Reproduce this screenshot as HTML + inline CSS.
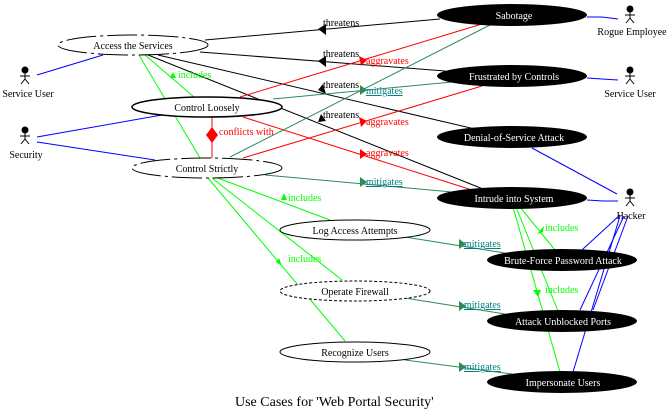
<!DOCTYPE html>
<html><head><style>
html,body{margin:0;padding:0;background:#fff;}
svg{display:block;font-family:"Liberation Serif",serif;}
</style></head><body>
<svg width="672" height="420" viewBox="0 0 672 420" xmlns="http://www.w3.org/2000/svg">
<g stroke-width="1" fill="none">
<!-- threatens (black) -->
<line x1="205" y1="40" x2="440" y2="19" stroke="#000"/>
<line x1="200" y1="52" x2="445" y2="71" stroke="#000"/>
<line x1="158" y1="55" x2="475" y2="129" stroke="#000"/>
<line x1="148" y1="55" x2="488" y2="191" stroke="#000"/>
<!-- aggravates red -->
<line x1="240" y1="97" x2="482" y2="24" stroke="#f00"/>
<line x1="243" y1="117" x2="472" y2="190" stroke="#f00"/>
<line x1="243" y1="158" x2="482" y2="86" stroke="#f00"/>
<!-- mitigates teal -->
<line x1="273" y1="99" x2="452" y2="82" stroke="#2e8b57"/>
<line x1="230" y1="157" x2="490" y2="25" stroke="#2e8b57"/>
<line x1="265" y1="175" x2="452" y2="192" stroke="#2e8b57"/>
<line x1="405" y1="237" x2="505" y2="253" stroke="#2e8b57"/>
<line x1="405" y1="298" x2="505" y2="314" stroke="#2e8b57"/>
<line x1="405" y1="360" x2="512" y2="374" stroke="#2e8b57"/>
<!-- includes green -->
<line x1="145" y1="55" x2="194" y2="97" stroke="#0f0"/>
<line x1="139" y1="55" x2="200" y2="158" stroke="#0f0"/>
<line x1="215" y1="177" x2="330" y2="220" stroke="#0f0"/>
<line x1="212" y1="178" x2="342" y2="280" stroke="#0f0"/>
<line x1="208" y1="178" x2="345" y2="341" stroke="#0f0"/>
<line x1="520" y1="207" x2="555" y2="250" stroke="#0f0"/>
<line x1="516" y1="207" x2="558" y2="311" stroke="#0f0"/>
<line x1="513" y1="207" x2="560" y2="372" stroke="#0f0"/>
<!-- conflicts -->
<line x1="212" y1="116" x2="212" y2="158" stroke="#f00"/>
<!-- actor lines blue -->
<line x1="37" y1="75" x2="103" y2="55" stroke="#00f"/>
<line x1="37" y1="137" x2="162" y2="115" stroke="#00f"/>
<line x1="37" y1="142" x2="155" y2="160" stroke="#00f"/>
<polyline points="587,17 602,17 618,19" stroke="#00f"/>
<polyline points="587,78 602,79 618,80" stroke="#00f"/>
<line x1="532" y1="148" x2="617" y2="194" stroke="#00f"/>
<polyline points="587,200 603,201 618,201" stroke="#00f"/>
<polyline points="580,252 583,249 620,215" stroke="#00f"/>
<line x1="580" y1="310" x2="624" y2="216" stroke="#00f"/>
<line x1="593" y1="310" x2="628" y2="216" stroke="#00f"/>
<line x1="573" y1="372" x2="620" y2="216" stroke="#00f"/>
</g>
<!-- arrowheads -->
<g fill="#000">
<polygon points="318,29 326,24 326,35"/>
<polygon points="318,61 326,56 326,67"/>
<polygon points="318,90 323,84 326,94"/>
<polygon points="318,122 321,114 326,121"/>
</g>
<g fill="#f00">
<polygon points="367,60 359,56 361,66"/>
<polygon points="367,154 360,149 360,159"/>
<polygon points="367,121 359,117 361,127"/>
<polygon points="212,127 218,135 212,143 206,135"/>
</g>
<g fill="#2e8b57">
<polygon points="367,90 360,85 360,95"/>
<polygon points="367,182 360,177 360,187"/>
<polygon points="466,244 459,239 459,249"/>
<polygon points="466,306 459,301 459,311"/>
<polygon points="466,367 459,362 459,372"/>
</g>
<g fill="#0f0">
<polygon points="170,78 176,78 173,72"/>
<polygon points="281,200 287,200 284,193"/>
<polygon points="276,262 282,266 279,258"/>
<polygon points="537,234 543,232 544,226"/>
<polygon points="533,290 541,290 538,297"/>
</g>
<!-- white ellipses -->
<g fill="#fff" stroke="#000">
<ellipse cx="133" cy="45" rx="75" ry="10" stroke-dasharray="30,4,3,4"/>
<ellipse cx="207" cy="107" rx="75" ry="10" stroke-width="1.5"/>
<ellipse cx="207" cy="168" rx="75" ry="10" stroke-dasharray="30,4,3,4"/>
<ellipse cx="355" cy="230" rx="75" ry="10"/>
<ellipse cx="355" cy="291" rx="75" ry="10" stroke-dasharray="3,2"/>
<ellipse cx="355" cy="352" rx="75" ry="10"/>
</g>
<!-- black ellipses -->
<g fill="#000">
<ellipse cx="512" cy="15" rx="75" ry="11"/>
<ellipse cx="512" cy="76" rx="75" ry="11"/>
<ellipse cx="512" cy="137" rx="75" ry="11"/>
<ellipse cx="512" cy="198" rx="75" ry="11"/>
<ellipse cx="562" cy="260" rx="75" ry="11"/>
<ellipse cx="562" cy="321" rx="75" ry="11"/>
<ellipse cx="562" cy="382" rx="75" ry="11"/>
</g>
<!-- actors -->
<g stroke="#000" fill="none">
<g transform="translate(630,6)"><circle cx="0" cy="3" r="3" fill="#000"/><line x1="0" y1="6" x2="0" y2="12"/><line x1="-5" y1="9" x2="5" y2="9"/><line x1="0" y1="12" x2="-4" y2="17"/><line x1="0" y1="12" x2="4" y2="17"/></g>
<g transform="translate(630,67)"><circle cx="0" cy="3" r="3" fill="#000"/><line x1="0" y1="6" x2="0" y2="12"/><line x1="-5" y1="9" x2="5" y2="9"/><line x1="0" y1="12" x2="-4" y2="17"/><line x1="0" y1="12" x2="4" y2="17"/></g>
<g transform="translate(630,189)"><circle cx="0" cy="3" r="3" fill="#000"/><line x1="0" y1="6" x2="0" y2="12"/><line x1="-5" y1="9" x2="5" y2="9"/><line x1="0" y1="12" x2="-4" y2="17"/><line x1="0" y1="12" x2="4" y2="17"/></g>
<g transform="translate(25,67)"><circle cx="0" cy="3" r="3" fill="#000"/><line x1="0" y1="6" x2="0" y2="12"/><line x1="-5" y1="9" x2="5" y2="9"/><line x1="0" y1="12" x2="-4" y2="17"/><line x1="0" y1="12" x2="4" y2="17"/></g>
<g transform="translate(25,127)"><circle cx="0" cy="3" r="3" fill="#000"/><line x1="0" y1="6" x2="0" y2="12"/><line x1="-5" y1="9" x2="5" y2="9"/><line x1="0" y1="12" x2="-4" y2="17"/><line x1="0" y1="12" x2="4" y2="17"/></g>
</g>
<g font-size="10" text-anchor="middle" fill="#000">
<text x="133" y="49">Access the Services</text>
<text x="207" y="111">Control Loosely</text>
<text x="207" y="172">Control Strictly</text>
<text x="355" y="234">Log Access Attempts</text>
<text x="355" y="295">Operate Firewall</text>
<text x="355" y="356">Recognize Users</text>
<text x="632" y="35">Rogue Employee</text>
<text x="630" y="97">Service User</text>
<text x="631" y="219">Hacker</text>
<text x="28" y="97">Service User</text>
<text x="26" y="158">Security</text>
</g>
<g font-size="10" text-anchor="middle" fill="#fff">
<text x="514" y="19">Sabotage</text>
<text x="514" y="80">Frustrated by Controls</text>
<text x="514" y="141">Denial-of-Service Attack</text>
<text x="514" y="202">Intrude into System</text>
<text x="563" y="264">Brute-Force Password Attack</text>
<text x="563" y="325">Attack Unblocked Ports</text>
<text x="563" y="386">Impersonate Users</text>
</g>
<g font-size="10">
<text x="323" y="26" fill="#000">threatens</text>
<text x="323" y="57" fill="#000">threatens</text>
<text x="323" y="88" fill="#000">threatens</text>
<text x="323" y="118" fill="#000">threatens</text>
<text x="366" y="64" fill="#f00">aggravates</text>
<text x="366" y="125" fill="#f00">aggravates</text>
<text x="366" y="156" fill="#f00">aggravates</text>
<text x="219" y="135" fill="#f00">conflicts with</text>
<g fill="#008080" text-decoration="underline">
<text x="366" y="94">mitigates</text>
<text x="366" y="185">mitigates</text>
<text x="464" y="247">mitigates</text>
<text x="464" y="308">mitigates</text>
<text x="464" y="370">mitigates</text>
</g>
<g fill="#0f0">
<text x="178" y="78">includes</text>
<text x="288" y="201">includes</text>
<text x="288" y="262">includes</text>
<text x="545" y="231">includes</text>
<text x="545" y="293">includes</text>
</g>
</g>
<text x="235" y="406" font-size="14" fill="#000">Use Cases for 'Web Portal Security'</text>
</svg>
</body></html>
